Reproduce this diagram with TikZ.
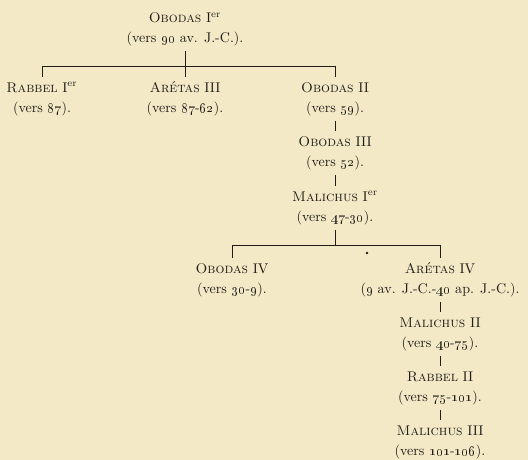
\documentclass[tikz,border=0pt]{standalone}
\usepackage{xcolor}
\definecolor{paper}{RGB}{243,233,199}
\definecolor{ink}{RGB}{32,28,22}
\usetikzlibrary{calc}

\begin{document}
\begin{tikzpicture}[every node/.style={font=\fontsize{10}{14.2}\selectfont, text=ink, align=center, inner sep=3.5pt},
  line/.style={draw=ink, line width=0.45pt}]
  \fill[paper] (0,0) rectangle (13.2,-11.5);
  \useasboundingbox (0,0) rectangle (13.2,-11.5);
  \node (obodasI) at (4.625,-0.725) {\textsc{Obodas} I\textsuperscript{er}\\(vers \oldstylenums{90} av. J.-C.).};
  \node (rabbelI) at (1.05,-2.475) {\textsc{Rabbel} I\textsuperscript{er}\\(vers \oldstylenums{87}).};
  \node (aretasIII) at (4.625,-2.475) {\textsc{Arétas} III\\(vers \oldstylenums{87}-\oldstylenums{62}).};
  \node (obodasII) at (8.375,-2.475) {\textsc{Obodas} II\\(vers \oldstylenums{59}).};
  \node (obodasIII) at (8.375,-3.825) {\textsc{Obodas} III\\(vers \oldstylenums{52}).};
  \node (malichusI) at (8.375,-5.2) {\textsc{Malichus} I\textsuperscript{er}\\(vers \oldstylenums{47}-\oldstylenums{30}).};
  \node (obodasIV) at (5.8,-7.0) {\textsc{Obodas} IV\\(vers \oldstylenums{30}-\oldstylenums{9}).};
  \node (aretasIV) at (11.0,-7.0) {\textsc{Arétas} IV\\(\oldstylenums{9} av. J.-C.-\oldstylenums{40} ap. J.-C.).};
  \node (malichusII) at (11.0,-8.35) {\textsc{Malichus} II\\(vers \oldstylenums{40}-\oldstylenums{75}).};
  \node (rabbelII) at (11.0,-9.7) {\textsc{Rabbel} II\\(vers \oldstylenums{75}-\oldstylenums{101}).};
  \node (malichusIII) at (11.0,-11.05) {\textsc{Malichus} III\\(vers \oldstylenums{101}-\oldstylenums{106}).};
  \coordinate (bar1) at (0,-1.65);
  \coordinate (bar2) at (0,-6.125);
  \draw[line] (obodasI) -- (obodasI |- bar1);
  \draw[line] (rabbelI |- bar1) -- (obodasII |- bar1);
  \draw[line] (rabbelI |- bar1) -- (rabbelI);
  \draw[line] (aretasIII |- bar1) -- (aretasIII);
  \draw[line] (obodasII |- bar1) -- (obodasII);
  \draw[line] (obodasII) -- (obodasIII);
  \draw[line] (obodasIII) -- (malichusI);
  \draw[line] (malichusI) -- (malichusI |- bar2);
  \draw[line] (obodasIV |- bar2) -- (aretasIV |- bar2);
  \draw[line] (obodasIV |- bar2) -- (obodasIV);
  \draw[line] (aretasIV |- bar2) -- (aretasIV);
  \draw[line] (aretasIV) -- (malichusII);
  \draw[line] (malichusII) -- (rabbelII);
  \draw[line] (rabbelII) -- (malichusIII);
  \fill[ink] (9.175,-6.325) circle (0.035);
\end{tikzpicture}
\end{document}
